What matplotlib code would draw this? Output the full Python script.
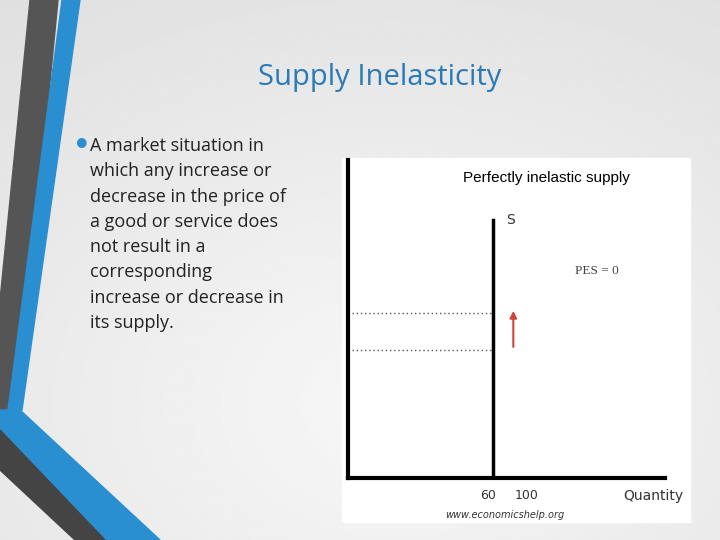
import numpy as np
import matplotlib.pyplot as plt
from matplotlib.patches import Rectangle, Polygon

# chart data
supply_q = 64
price_levels = [40.3, 51.9]
arrow_x = 73
s_top = 81
tick_pos = [62, 79]
tick_labels = ["60", "100"]

fig = plt.figure(figsize=(7.2, 5.4), dpi=100)

# slide background gradient
bg = fig.add_axes([0, 0, 1, 1], zorder=-10)
gx, gy = np.meshgrid(np.linspace(0, 1, 200), np.linspace(0, 1, 200))
grad = 0.97 - 0.10 * np.sqrt((gx - 0.55) ** 2 + (gy - 0.75) ** 2)
bg.imshow(grad, cmap="gray", vmin=0, vmax=1, extent=[0, 720, 540, 0], aspect="auto")
bg.set_xlim(0, 720)
bg.set_ylim(540, 0)
bg.axis("off")

# decorative stripes
bg.add_patch(Polygon([[30, 0], [58, 0], [18, 410], [0, 410], [0, 300]], color="#555555"))
bg.add_patch(Polygon([[62, 0], [80, 0], [22, 410], [8, 410]], color="#2a8fd0"))
bg.add_patch(Polygon([[0, 410], [20, 410], [160, 540], [100, 540], [0, 450]], color="#2a8fd0"))
bg.add_patch(Polygon([[0, 430], [0, 470], [75, 540], [105, 540]], color="#444444"))

bg.text(380, 78, "Supply Inelasticity", color="#2a7ab8", fontsize=21,
        ha="center", va="center", family="Open Sans")
bg.text(72, 146, "•", color="#2a8fd0", fontsize=24, va="center")
bullet = ("A market situation in\nwhich any increase or\ndecrease in the price of\n"
          "a good or service does\nnot result in a\ncorresponding\n"
          "increase or decrease in\nits supply.")
bg.text(90, 137, bullet, fontsize=13, va="top", linespacing=1.52,
        color="#222222", family="Open Sans")

# white inset box
bg.add_patch(Rectangle((342, 158), 348, 364, color="white"))
bg.text(546, 178, "Perfectly inelastic supply", fontsize=11, ha="center",
        va="center", family="Liberation Sans")
bg.text(505, 515, "www.economicshelp.org", fontsize=7, ha="center",
        va="center", style="italic", color="#333333")
bg.text(623, 496, "Quantity", fontsize=10, va="center", color="#333333")

ax = fig.add_axes([0.483, 0.115, 0.441, 0.589])
ax.set_xlim(0, 140)
ax.set_ylim(0, 100)
ax.patch.set_alpha(0)
for s in ["top", "right"]:
    ax.spines[s].set_visible(False)
ax.spines["left"].set_linewidth(3)
ax.spines["bottom"].set_linewidth(3)
ax.set_yticks([])
ax.set_xticks(tick_pos)
ax.set_xticklabels(tick_labels, fontsize=9, color="#333333")
ax.tick_params(axis="x", length=0, pad=8)

ax.plot([supply_q, supply_q], [0, s_top], color="black", lw=2.5)
ax.text(supply_q + 6, s_top, "S", fontsize=10, va="center", color="#333333")
for p in price_levels:
    ax.plot([2, supply_q - 1], [p, p], color="#555555", lw=1, linestyle=(0, (1, 2)))
ax.annotate("", xy=(arrow_x, price_levels[1] + 1.5), xytext=(arrow_x, price_levels[0]),
            arrowprops=dict(arrowstyle="-|>", color="#d0453a", lw=1.5))
ax.text(100, 64, "PES = 0", fontsize=9.5, family="Liberation Serif", color="#444444")

fig.savefig("out.png", dpi=100)
